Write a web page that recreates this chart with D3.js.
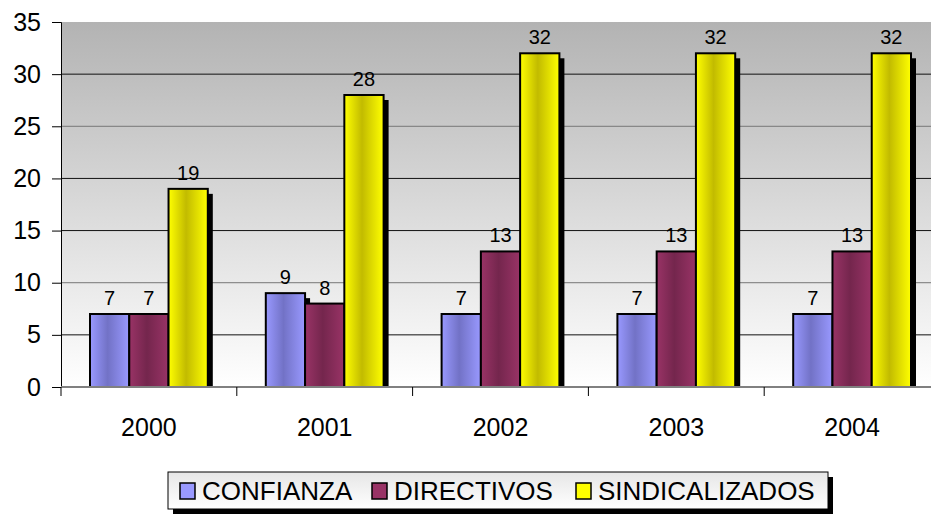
<!DOCTYPE html>
<html>
<head>
<meta charset="utf-8">
<script src="https://cdn.jsdelivr.net/npm/d3@7"></script>
<style>
body { margin: 0; background: #fff; overflow: hidden; }
svg { font-family: "Liberation Sans", Arial, sans-serif; }
</style>
</head>
<body>
<svg width="931" height="516"></svg>
<script>
var years = ["2000", "2001", "2002", "2003", "2004"];
var seriesNames = ["CONFIANZA", "DIRECTIVOS", "SINDICALIZADOS"];
var confianza = [7, 9, 7, 7, 7];
var directivos = [7, 8, 13, 13, 13];
var sindicalizados = [19, 28, 32, 32, 32];
var yTicks = [0, 5, 10, 15, 20, 25, 30, 35];

var colors = [
  {edge: "#9999ff", mid: "#7272c6"},
  {edge: "#993366", mid: "#74264d"},
  {edge: "#ffff00", mid: "#c2bb00"}
];
var values = [confianza, directivos, sindicalizados];

// plot area runs a little past the right edge, as in the original picture
var svg = d3.select("svg"),
    plotLeft = 61, plotTop = 22, plotRight = 940, plotBottom = 387;

var defs = svg.append("defs");
var bg = defs.append("linearGradient").attr("id", "bg")
  .attr("x1", 0).attr("y1", 0).attr("x2", 0).attr("y2", 1);
bg.append("stop").attr("offset", "0%").attr("stop-color", "#b3b3b3");
bg.append("stop").attr("offset", "100%").attr("stop-color", "#ffffff");

colors.forEach(function(c, i) {
  var g = defs.append("linearGradient").attr("id", "bar" + i)
    .attr("x1", 0).attr("y1", 0).attr("x2", 1).attr("y2", 0);
  g.append("stop").attr("offset", "0%").attr("stop-color", c.edge);
  g.append("stop").attr("offset", "45%").attr("stop-color", c.mid);
  g.append("stop").attr("offset", "100%").attr("stop-color", c.edge);
});

var lg = defs.append("linearGradient").attr("id", "leg")
  .attr("x1", 0).attr("y1", 0).attr("x2", 0).attr("y2", 1);
lg.append("stop").attr("offset", "0%").attr("stop-color", "#e6e6e6");
lg.append("stop").attr("offset", "100%").attr("stop-color", "#ffffff");

var x0 = d3.scaleBand().domain(years).range([plotLeft, plotRight]);
var x1 = d3.scaleBand().domain(seriesNames).range([29, x0.bandwidth() - 29]);
var y = d3.scaleLinear().domain([0, 35]).range([plotBottom, plotTop]);

// plot background
svg.append("rect")
  .attr("x", plotLeft).attr("y", plotTop)
  .attr("width", plotRight - plotLeft).attr("height", plotBottom - plotTop)
  .attr("fill", "url(#bg)");

// gridlines
svg.append("g").selectAll("line")
  .data(yTicks.filter(function(d){ return d > 0 && d < 35; }))
  .enter().append("line")
  .attr("x1", plotLeft).attr("x2", plotRight)
  .attr("y1", function(d){ return y(d); })
  .attr("y2", function(d){ return y(d); })
  .attr("stroke", function(d){ return (d === 10 || d === 25) ? "#777" : "#111"; })
  .attr("stroke-width", 1);

// bars
var data = [];
years.forEach(function(yr, i) {
  seriesNames.forEach(function(s, j) {
    data.push({year: yr, series: s, idx: j, value: values[j][i]});
  });
});

var bars = svg.append("g");
bars.selectAll(".shadow").data(data).enter().append("rect")
  .attr("class", "shadow")
  .attr("x", function(d){ return x0(d.year) + x1(d.series) + 5; })
  .attr("y", function(d){ return y(d.value) + 5; })
  .attr("width", x1.bandwidth())
  .attr("height", function(d){ return plotBottom - y(d.value) - 5; })
  .attr("fill", "#000");

bars.selectAll(".bar").data(data).enter().append("rect")
  .attr("class", "bar")
  .attr("x", function(d){ return x0(d.year) + x1(d.series); })
  .attr("y", function(d){ return y(d.value); })
  .attr("width", x1.bandwidth())
  .attr("height", function(d){ return plotBottom - y(d.value); })
  .attr("fill", function(d){ return "url(#bar" + d.idx + ")"; })
  .attr("stroke", "#000").attr("stroke-width", 2);

bars.selectAll(".lbl").data(data).enter().append("text")
  .attr("class", "lbl")
  .attr("x", function(d){ return x0(d.year) + x1(d.series) + x1.bandwidth() / 2; })
  .attr("y", function(d){ return y(d.value) - 9; })
  .attr("text-anchor", "middle")
  .attr("font-size", "20px")
  .attr("fill", "#000")
  .text(function(d){ return d.value; });

// y axis
var yAxis = svg.append("g")
  .attr("transform", "translate(" + plotLeft + ",0)")
  .call(d3.axisLeft(y).tickValues(yTicks).tickSize(9).tickPadding(11));
yAxis.select(".domain").attr("stroke", "#000");
yAxis.selectAll("text").attr("font-size", "25px").attr("fill", "#000")
  .attr("font-family", "Liberation Sans, Arial, sans-serif");

// x axis
var xAxis = svg.append("g")
  .attr("transform", "translate(0," + plotBottom + ")");
xAxis.append("line").attr("x1", plotLeft).attr("x2", plotRight)
  .attr("stroke", "#808080").attr("stroke-width", 2);
xAxis.selectAll(".tk").data(years).enter().append("line")
  .attr("x1", function(d){ return x0(d); })
  .attr("x2", function(d){ return x0(d); })
  .attr("y1", 0).attr("y2", 9)
  .attr("stroke", "#000");
xAxis.selectAll(".yl").data(years).enter().append("text")
  .attr("x", function(d){ return x0(d) + x0.bandwidth() / 2; })
  .attr("y", 49)
  .attr("text-anchor", "middle")
  .attr("font-size", "25px")
  .text(function(d){ return d; });

// legend
var legend = svg.append("g");
legend.append("rect").attr("x", 173).attr("y", 477).attr("width", 660).attr("height", 37).attr("fill", "#000");
legend.append("rect").attr("x", 168).attr("y", 472).attr("width", 660).attr("height", 37)
  .attr("fill", "url(#leg)").attr("stroke", "#000").attr("stroke-width", 1);

var legX = [180, 372, 576];
seriesNames.forEach(function(s, j) {
  legend.append("rect").attr("x", legX[j]).attr("y", 483)
    .attr("width", 15).attr("height", 16)
    .attr("fill", colors[j].edge).attr("stroke", "#000").attr("stroke-width", 1.5);
  legend.append("text").attr("x", legX[j] + 22).attr("y", 500)
    .attr("font-size", "26px").attr("fill", "#000").text(s);
});
</script>
</body>
</html>
